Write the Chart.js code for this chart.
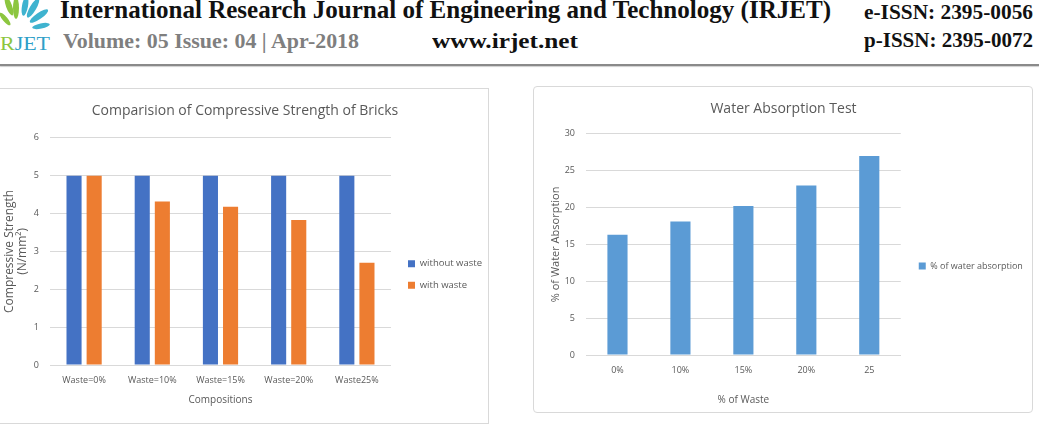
<!DOCTYPE html>
<html>
<head>
<meta charset="utf-8">
<script src="https://cdn.jsdelivr.net/npm/chart.js@4.4.1/dist/chart.umd.min.js"></script>
<style>
  html, body { margin: 0; padding: 0; background: #fff; width: 1039px; height: 426px; overflow: hidden; position: relative; }
  .hdr { position: absolute; white-space: nowrap; transform-origin: 0 0; font-family: "Liberation Serif", "DejaVu Serif", serif; font-weight: bold; line-height: normal; }
  #rule { position: absolute; left: 0; top: 64px; width: 1039px; height: 2px; background: #8a8a8a; box-shadow: 0 1px 1px #cfcfcf; }
  .panel { position: absolute; border: 1px solid #d9d9d9; background: #fff; box-sizing: border-box; }
  .panel canvas { position: absolute; left: 0; top: 0; }
  #logo { position: absolute; left: 0; top: 0; width: 52px; height: 54px; }
</style>
</head>
<body>
<svg id="logo" viewBox="0 0 52 54">
  <g fill="#3fb3cf">
    <ellipse cx="33" cy="8" rx="3.2" ry="11" transform="rotate(30 33 8)"/>
    <ellipse cx="39" cy="16" rx="3.2" ry="11" transform="rotate(55 39 16)"/>
    <ellipse cx="41" cy="26" rx="2.6" ry="9" transform="rotate(78 41 26)"/>
    <ellipse cx="25" cy="6" rx="3" ry="10" transform="rotate(10 25 6)"/>
  </g>
  <g fill="#8cc63f">
    <ellipse cx="9" cy="6" rx="3" ry="10" transform="rotate(-20 9 6)"/>
    <ellipse cx="16" cy="8" rx="3" ry="11" transform="rotate(0 16 8)"/>
    <ellipse cx="5" cy="19" rx="2.5" ry="8" transform="rotate(-40 5 19)"/>
  </g>
  <text x="0" y="50" font-family="Liberation Serif, serif" font-size="19" textLength="50" lengthAdjust="spacingAndGlyphs" fill="#2f9fc8"><tspan fill="#8cc63f">R</tspan>JET</text>
</svg>
<div class="hdr" data-x="60" data-w="771" style="top:-4px; font-size:25px; color:#111;">International Research Journal of Engineering and Technology (IRJET)</div>
<div class="hdr" data-x="864" data-w="169" style="top:1px; font-size:20px; color:#111;">e-ISSN: 2395-0056</div>
<div class="hdr" data-x="63" data-w="296" style="top:30px; font-size:20px; color:#7f7f7f;">Volume: 05 Issue: 04 | Apr-2018</div>
<div class="hdr" data-x="432" data-w="146" style="top:30px; font-size:20px; color:#111;">www.irjet.net</div>
<div class="hdr" data-x="864" data-w="169" style="top:29px; font-size:20px; color:#111;">p-ISSN: 2395-0072</div>
<div id="rule"></div>

<div class="panel" style="left:-1px; top:88px; width:490px; height:336px;">
  <canvas id="c1" width="489" height="335"></canvas>
</div>
<div class="panel" style="left:533px; top:86px; width:500px; height:327px; border-radius:4px;">
  <canvas id="c2" width="499" height="326"></canvas>
</div>

<script>
// ---- data ----
const compCategories = ["Waste=0%", "Waste=10%", "Waste=15%", "Waste=20%", "Waste25%"];
const withoutWaste = [5, 5, 5, 5, 5];
const withWaste = [5, 4.32, 4.18, 3.83, 2.7];

const absCategories = ["0%", "10%", "15%", "20%", "25"];
const waterAbsorption = [16.3, 18.1, 20.2, 23, 27];

// ---- header fitting ----
document.querySelectorAll('.hdr').forEach(el => {
  const w = el.getBoundingClientRect().width;
  const target = parseFloat(el.dataset.w);
  el.style.left = el.dataset.x + 'px';
  el.style.transform = 'scaleX(' + (target / w) + ')';
});

const FONT = '"Open Sans", "Noto Sans", sans-serif';
const GRAY = '#595959';

function fixedY(width) { return function(scale) { scale.width = width; }; }
function fixedX(height) { return function(scale) { scale.height = height; }; }

// nudges the legend box after layout (offset between plot and legend)
const legendShift = {
  id: 'legendShift',
  afterLayout(chart, args, opts) {
    const lg = chart.legend;
    if (!lg) return;
    lg.left += opts.dx; lg.right += opts.dx;
    lg.top += opts.dy; lg.bottom += opts.dy;
  }
};

new Chart(document.getElementById('c1'), {
  type: 'bar',
  data: {
    labels: compCategories,
    datasets: [
      { label: 'without waste', data: withoutWaste, backgroundColor: '#4472C4', categoryPercentage: 0.59, barPercentage: 0.75 },
      { label: 'with waste', data: withWaste, backgroundColor: '#ED7D31', categoryPercentage: 0.59, barPercentage: 0.75 }
    ]
  },
  plugins: [legendShift],
  options: {
    responsive: false, animation: false, devicePixelRatio: 1,
    layout: { padding: { left: 3, right: 2, top: 14, bottom: 14 } },
    plugins: {
      title: { display: true, text: 'Comparision of Compressive Strength of Bricks', color: GRAY, font: { family: FONT, size: 14, weight: 'normal' }, padding: { top: 0, bottom: 18 } },
      legend: { position: 'right',
        labels: { boxWidth: 7, boxHeight: 7, color: GRAY, font: { family: FONT, size: 9.5 }, padding: 12 } },
      legendShift: { dx: 5, dy: 18 },
      tooltip: { enabled: false }
    },
    scales: {
      x: {
        grid: { display: false, drawTicks: false },
        border: { color: '#d9d9d9' },
        ticks: { color: GRAY, font: { family: FONT, size: 9 }, padding: 10, maxRotation: 0 },
        title: { display: true, text: 'Compositions', color: GRAY, font: { family: FONT, size: 10 }, padding: { top: 4 } },
        afterFit: fixedX(45)
      },
      y: {
        min: 0, max: 6,
        grid: { color: '#d9d9d9', drawTicks: false },
        border: { display: false },
        ticks: { stepSize: 1, color: GRAY, font: { family: FONT, size: 9 }, padding: 11 },
        title: { display: true, text: ['Compressive Strength', '(N/mm²)'], color: GRAY, font: { family: FONT, size: 12, lineHeight: 1.1 }, padding: 0 },
        afterFit: fixedY(47)
      }
    }
  }
});

new Chart(document.getElementById('c2'), {
  type: 'bar',
  data: {
    labels: absCategories,
    datasets: [
      { label: '% of water absorption', data: waterAbsorption, backgroundColor: '#5B9BD5', categoryPercentage: 0.64, barPercentage: 0.5 }
    ]
  },
  plugins: [legendShift],
  options: {
    responsive: false, animation: false, devicePixelRatio: 1,
    layout: { padding: { left: 15, right: 15, top: 14, bottom: 3 } },
    plugins: {
      title: { display: true, text: 'Water Absorption Test', color: GRAY, font: { family: FONT, size: 14, weight: 'normal' }, padding: { top: 0, bottom: 16 } },
      legend: { position: 'right',
        labels: { boxWidth: 7, boxHeight: 7, color: GRAY, font: { family: FONT, size: 9 }, padding: 12 } },
      legendShift: { dx: 6, dy: 10.5 },
      tooltip: { enabled: false }
    },
    scales: {
      x: {
        grid: { display: false, drawTicks: false },
        border: { color: '#d9d9d9' },
        ticks: { color: GRAY, font: { family: FONT, size: 9 }, padding: 10, maxRotation: 0 },
        title: { display: true, text: '% of Waste', color: GRAY, font: { family: FONT, size: 10 }, padding: { top: 16 } },
        afterFit: fixedX(55)
      },
      y: {
        min: 0, max: 30,
        grid: { color: '#d9d9d9', drawTicks: false },
        border: { display: false },
        ticks: { stepSize: 5, color: GRAY, font: { family: FONT, size: 9 }, padding: 11 },
        title: { display: true, text: '% of Water Absorption', color: GRAY, font: { family: FONT, size: 11 }, padding: 0 },
        afterFit: fixedY(37)
      }
    }
  }
});
</script>
</body>
</html>
